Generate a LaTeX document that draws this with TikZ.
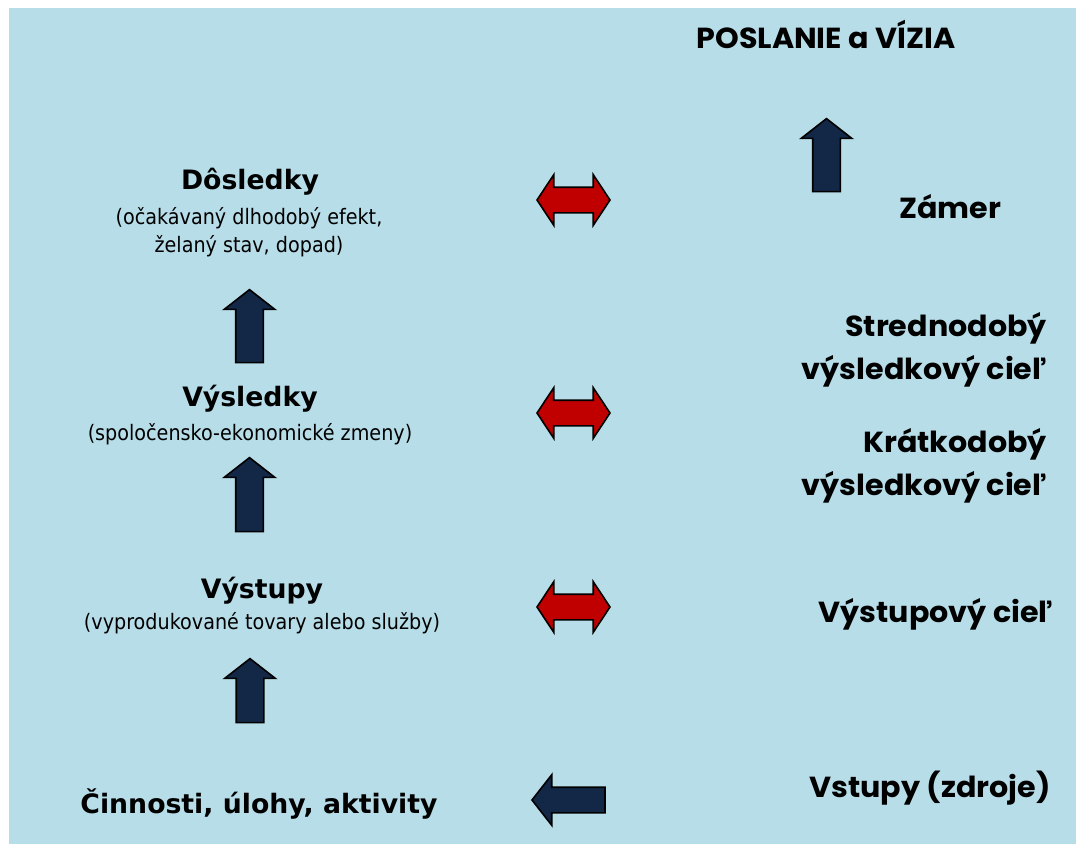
\documentclass[tikz,border=0pt]{standalone}
\usepackage{fontspec}
\usetikzlibrary{shapes.arrows, positioning}
\newfontfamily\lfont[FakeStretch=0.9, BoldFeatures={FakeStretch=1.0}]{DejaVu Sans}
\newfontfamily\rfont[FakeStretch=1.04]{Poppins}
\definecolor{skyback}{RGB}{183, 221, 232}
\definecolor{navyarrow}{RGB}{18, 40, 70}
\definecolor{redarrow}{RGB}{192, 0, 0}

\begin{document}
\begin{tikzpicture}[x=1pt, y=-1pt, every node/.style={inner sep=0pt},
  ltitle/.style={font=\lfont\bfseries\fontsize{26.7}{32}\selectfont, anchor=base},
  lsub/.style={font=\lfont\fontsize{21.3}{28}\selectfont, align=center, anchor=base},
  rlabel/.style={font=\rfont\bfseries\fontsize{29}{43}\selectfont, align=right, anchor=base},
  upblock/.style={single arrow, draw=black, fill=navyarrow, line width=1.6pt, rotate=90,
    inner xsep=0pt, inner ysep=13pt, single arrow head extend=11.5pt, single arrow tip angle=104},
  leftblock/.style={single arrow, draw=black, fill=navyarrow, line width=1.6pt, rotate=180,
    minimum height=73pt, inner xsep=0pt, inner ysep=12pt, single arrow head extend=12.5pt, single arrow tip angle=104},
  bothblock/.style={double arrow, draw=black, fill=redarrow, line width=1.6pt,
    minimum height=73pt, inner xsep=0pt, inner ysep=12pt, double arrow head extend=12.5pt, double arrow tip angle=113}]
  \useasboundingbox (0,0) rectangle (1076,844);
  \fill[skyback] (9,8) rectangle (1076,844);

  % left column
  \node[ltitle] (dosl) at (250,189) {Dôsledky};
  \node[lsub] (dosltxt) at (249,252) {(očakávaný dlhodobý efekt,\\želaný stav, dopad)};
  \node[ltitle] (vysl) at (250,406) {Výsledky};
  \node[lsub] (vysltxt) at (250,440) {(spoločensko-ekonomické zmeny)};
  \node[ltitle] (vyst) at (262,598) {Výstupy};
  \node[lsub] (vysttxt) at (262,629) {(vyprodukované tovary alebo služby)};
  \node[ltitle] (cinn) at (259,813) {Činnosti, úlohy, aktivity};

  \node[upblock, minimum height=73pt] (up1) at (249.5,331.5) {};
  \node[upblock, minimum height=74pt] (up2) at (249.5,500) {};
  \node[upblock, minimum height=64pt] (up3) at (250,696) {};

  % middle
  \foreach \y/\nm in {200/dbl1, 413/dbl2, 607/dbl3} {
    \node[bothblock] (\nm) at (573.5,\y) {};
  }
  \node[leftblock] (inp) at (573.5,800) {};

  % right column
  \node[rlabel] (misia) at (826,48) {POSLANIE a VÍZIA};
  \node[upblock, minimum height=73pt] (up4) at (826.5,160.5) {};
  \node[rlabel] (zamer) at (950,218) {Zámer};
  \node[rlabel, anchor=base east] (stred) at (1047,379) {Strednodobý\\výsledkový cieľ};
  \node[rlabel, anchor=base east] (krat) at (1047,495) {Krátkodobý\\výsledkový cieľ};
  \node[rlabel] (vystciel) at (936,622) {Výstupový cieľ};
  \node[rlabel] (vstupy) at (930,797) {Vstupy (zdroje)};
\end{tikzpicture}
\end{document}
